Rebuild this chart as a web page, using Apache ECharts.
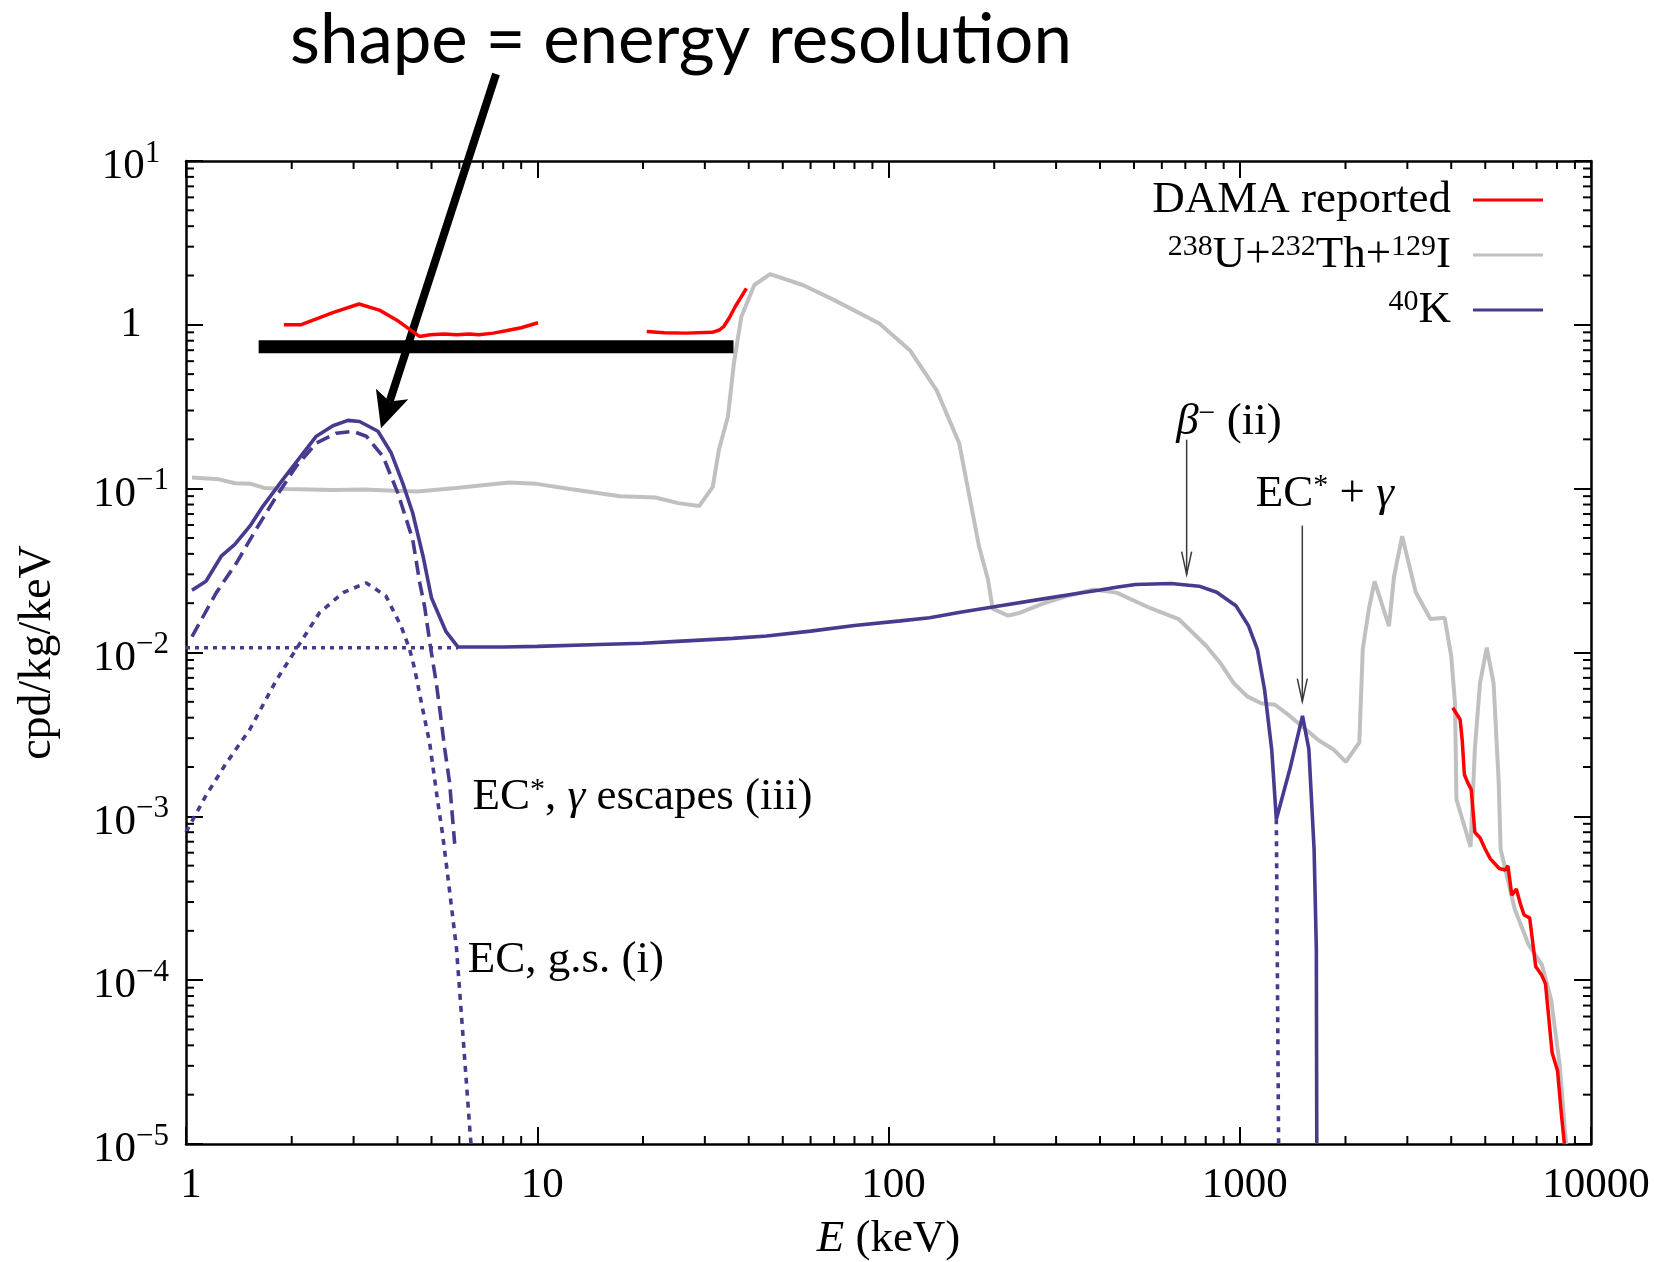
<!DOCTYPE html>
<html>
<head>
<meta charset="utf-8">
<title>40K background in NaI</title>
<script src="https://cdn.jsdelivr.net/npm/echarts@6/dist/echarts.min.js"></script>
<style>
  html, body { margin: 0; padding: 0; background: #fff; }
  #chart { width: 1654px; height: 1262px; }
</style>
</head>
<body>
<div id="chart"></div>
<script>
// energies in keV, rates in cpd/kg/keV
const damaLowA = [[1.90, 1.0], [2.12, 1.0], [2.63, 1.19], [3.11, 1.34], [3.55, 1.23], [4.03, 1.05], [4.62, 0.85],
  [4.95, 0.87], [5.44, 0.88], [5.9, 0.87], [6.4, 0.88], [6.82, 0.87], [7.5, 0.89], [8.14, 0.92], [9.0, 0.96], [10.05, 1.03]];
const damaLowB = [[20.5, 0.91], [23, 0.895], [26.5, 0.89], [31.5, 0.90], [33, 0.93], [34.0, 0.98], [35.2, 1.10],
  [36.6, 1.29], [39.4, 1.67]];
const damaHigh = [[4040, 0.0046], [4150, 0.0042], [4240, 0.0039], [4300, 0.0029], [4360, 0.0018], [4460, 0.0016],
  [4560, 0.00146], [4670, 0.00080], [4830, 0.00074], [5000, 0.00063], [5170, 0.00055], [5480, 0.00048],
  [5700, 0.00047], [5800, 0.00050], [5950, 0.00033], [6130, 0.00036], [6300, 0.00029], [6450, 0.00025],
  [6690, 0.00024], [6960, 0.000121], [7240, 0.000107], [7420, 0.000095], [7750, 3.6e-5], [8030, 2.8e-5],
  [8240, 1.5e-5], [8400, 1e-5]];

const uthI = [[1.04, 0.117], [1.24, 0.114], [1.38, 0.108], [1.53, 0.107], [1.67, 0.101], [1.94, 0.0995], [2.63, 0.098],
  [3.21, 0.099], [3.92, 0.097], [4.56, 0.096], [5.87, 0.101], [8.32, 0.109], [9.95, 0.107], [12.4, 0.0995],
  [17.2, 0.0898], [21.7, 0.0884], [25.2, 0.0816], [28.9, 0.0783], [31.6, 0.1025], [32.9, 0.173], [34.9, 0.276],
  [36.3, 0.584], [38.1, 1.12], [41.5, 1.75], [46.0, 2.04], [57.0, 1.75], [69.9, 1.42], [94.2, 1.02], [115, 0.70],
  [137, 0.40], [159, 0.189], [181, 0.0445], [192, 0.0278], [198, 0.0185], [219, 0.0168], [237, 0.0175],
  [281, 0.0202], [327, 0.0223], [382, 0.0242], [446, 0.0232], [555, 0.0187], [670, 0.0160], [802, 0.0110],
  [878, 0.0087], [961, 0.0065], [1050, 0.0054], [1150, 0.0049], [1260, 0.0048], [1388, 0.0041], [1680, 0.0029],
  [1845, 0.00257], [2005, 0.00215], [2190, 0.00283], [2240, 0.0105], [2330, 0.0183], [2420, 0.0272],
  [2660, 0.0145], [2750, 0.0292], [2900, 0.0513], [3170, 0.0233], [3490, 0.0160], [3830, 0.0163], [4000, 0.0095],
  [4100, 0.0049], [4140, 0.00127], [4540, 0.00065], [4670, 0.00257], [4830, 0.0065], [5050, 0.0107],
  [5280, 0.0065], [5460, 0.00162], [5530, 0.00063], [6070, 0.00027], [6640, 0.000165], [7240, 0.000125],
  [7700, 7.6e-5], [8150, 3.0e-5], [8430, 1.2e-5], [8500, 1e-5]];

// 40K: total, EC* with escaping gamma, EC to ground state, beta continuum below threshold, gap below the EC*+gamma line
const k40Total = [[1.04, 0.024], [1.14, 0.0272], [1.26, 0.0387], [1.375, 0.0455], [1.52, 0.059], [1.655, 0.078],
  [1.886, 0.1135], [2.105, 0.154], [2.35, 0.209], [2.62, 0.242], [2.89, 0.261], [3.12, 0.257], [3.52, 0.224],
  [3.84, 0.165], [4.14, 0.108], [4.42, 0.071], [4.73, 0.0387], [5.00, 0.0215], [5.50, 0.0134], [5.95, 0.0108],
  [8, 0.0108], [10, 0.0109], [15, 0.0112], [20, 0.0114], [25, 0.0117], [36, 0.0122], [45, 0.0126], [60, 0.0135],
  [80, 0.0146], [108, 0.0156], [131, 0.0163], [160, 0.0176], [200, 0.0190], [270, 0.0211], [330, 0.0226],
  [400, 0.0241], [450, 0.0251], [505, 0.0260], [637, 0.0264], [766, 0.0254], [860, 0.0233], [977, 0.0192],
  [1060, 0.0145], [1123, 0.0104], [1177, 0.0059], [1233, 0.00256], [1271, 0.00096], [1388, 0.00193],
  [1509, 0.0041], [1573, 0.00257], [1628, 0.00063], [1652, 0.000156], [1657, 1e-5]];
const k40Escape = [[1.04, 0.0125], [1.22, 0.0232], [1.39, 0.035], [1.58, 0.056], [1.81, 0.090], [2.06, 0.137],
  [2.35, 0.190], [2.68, 0.218], [2.99, 0.224], [3.26, 0.209], [3.64, 0.157], [4.01, 0.094], [4.42, 0.049],
  [4.63, 0.0266], [4.78, 0.019], [4.97, 0.0107], [5.16, 0.0065], [5.30, 0.0042], [5.45, 0.0026], [5.63, 0.0016],
  [5.82, 0.00068]];
const k40Ground = [[1.0, 0.0008], [1.14, 0.00134], [1.30, 0.0021], [1.52, 0.0034], [1.81, 0.0068], [2.06, 0.0105],
  [2.40, 0.0175], [2.80, 0.0232], [3.26, 0.0266], [3.71, 0.0221], [4.10, 0.0144], [4.33, 0.0105], [4.48, 0.0079],
  [4.72, 0.0045], [4.94, 0.0028], [5.20, 0.00126], [5.38, 0.00077], [5.55, 0.00045], [5.89, 0.000156],
  [6.14, 4.7e-5], [6.44, 1.16e-5], [6.48, 1e-5]];
const k40Floor = [[1, 0.0107], [5.95, 0.0107]];
const k40Gap = [[1271, 0.00096], [1290, 1e-5]];

// the thick black bar ("energy resolution")
const resolutionBar = [[1.61, 0.734], [36.2, 0.734]];

const xTicks = [1, 10, 100, 1000, 10000];
const yTicks = [1e-5, 1e-4, 1e-3, 1e-2, 1e-1, 1, 10];

const legendNames = ['DAMA reported', '238U+232Th+129I', '40K'];
const legendLabels = {
  'DAMA reported': 'DAMA reported',
  '238U+232Th+129I': '{sup|238}U+{sup|232}Th+{sup|129}I',
  '40K': '{sup|40}K'
};

const SERIF = '"Liberation Serif", "DejaVu Serif", serif';
const RED = '#ff0000';
const GRAY = '#c0c0c0';
const BLUE = '#463b8e';

const chart = echarts.init(document.getElementById('chart'));

const supStyle = { fontFamily: SERIF, fontSize: 30, lineHeight: 22, verticalAlign: 'top', color: '#000' };
const itStyle = { fontFamily: SERIF, fontSize: 45, lineHeight: 46, fontStyle: 'italic', color: '#000' };

function lineSeries(name, data, color, width, type) {
  return {
    name: name,
    type: 'line',
    data: data,
    showSymbol: false,
    symbol: 'none',
    silent: true,
    lineStyle: { color: color, width: width, type: type || 'solid' },
    itemStyle: { color: color }
  };
}

function renderMinorTicks(params, api) {
  const children = [];
  const style = { stroke: '#000', lineWidth: 2 };
  const len = 8;
  for (let k = 0; k < xTicks.length - 1; k++) {
    for (let m = 2; m < 10; m++) {
      const e = m * xTicks[k];
      const b = api.coord([e, yTicks[0]]);
      const t = api.coord([e, yTicks[yTicks.length - 1]]);
      children.push({ type: 'line', shape: { x1: b[0], y1: b[1], x2: b[0], y2: b[1] - len }, style: style });
      children.push({ type: 'line', shape: { x1: t[0], y1: t[1], x2: t[0], y2: t[1] + len }, style: style });
    }
  }
  for (let k = 0; k < yTicks.length - 1; k++) {
    for (let m = 2; m < 10; m++) {
      const v = m * yTicks[k];
      const l = api.coord([xTicks[0], v]);
      const r = api.coord([xTicks[xTicks.length - 1], v]);
      children.push({ type: 'line', shape: { x1: l[0], y1: l[1], x2: l[0] + len, y2: l[1] }, style: style });
      children.push({ type: 'line', shape: { x1: r[0], y1: r[1], x2: r[0] - len, y2: r[1] }, style: style });
    }
  }
  return { type: 'group', children: children };
}

const frameAxis = {
  type: 'log',
  logBase: 10,
  axisLine: { show: true, lineStyle: { color: '#000', width: 2.5 } },
  axisTick: { show: true, inside: true, length: 17, lineStyle: { color: '#000', width: 2 } },
  splitLine: { show: false },
  minorTick: { show: false }
};

const option = {
  animation: false,
  backgroundColor: '#fff',
  grid: { left: 186, right: 63, top: 161, bottom: 118, containLabel: false, outerBoundsMode: 'none' },
  legend: {
    data: legendNames,
    orient: 'vertical',
    right: 106,
    top: 172,
    align: 'right',
    icon: 'rect',
    itemWidth: 70,
    itemHeight: 3,
    itemGap: 9,
    selectedMode: false,
    formatter: function (name) { return legendLabels[name]; },
    textStyle: {
      fontFamily: SERIF, fontSize: 45, lineHeight: 46, color: '#000', padding: [0, 17, 0, 0],
      rich: { sup: supStyle }
    }
  },
  xAxis: [
    Object.assign({}, frameAxis, {
      min: xTicks[0], max: xTicks[xTicks.length - 1], splitNumber: 4, position: 'bottom',
      name: '{it|E} (keV)', nameLocation: 'middle', nameGap: 72,
      nameTextStyle: { fontFamily: SERIF, fontSize: 45, lineHeight: 46, color: '#000', rich: { it: itStyle } },
      axisLabel: {
        show: true, margin: 20, fontFamily: SERIF, fontSize: 43, color: '#000', padding: [0, 0, 0, 10],
        showMinLabel: true, showMaxLabel: true,
        formatter: function (v) { return String(Math.round(v)); }
      }
    }),
    Object.assign({}, frameAxis, {
      min: xTicks[0], max: xTicks[xTicks.length - 1], splitNumber: 4, position: 'top',
      axisLabel: { show: false }
    })
  ],
  yAxis: [
    Object.assign({}, frameAxis, {
      min: yTicks[0], max: yTicks[yTicks.length - 1], splitNumber: 6, position: 'left',
      name: 'cpd/kg/keV', nameLocation: 'middle', nameGap: 125, nameRotate: 90,
      nameTextStyle: { fontFamily: SERIF, fontSize: 46, color: '#000' },
      axisLabel: {
        show: true, margin: 55, align: 'center', fontFamily: SERIF, fontSize: 43, lineHeight: 46, color: '#000',
        showMinLabel: true, showMaxLabel: true,
        formatter: function (v) {
          const p = Math.round(Math.log10(v));
          if (p === 0) return '1';
          return '{b|10}{s|' + String(p).replace('-', '\u2212') + '}';
        },
        rich: {
          b: { fontFamily: SERIF, fontSize: 43, lineHeight: 46, padding: [12, 0, 0, 0], color: '#000' },
          s: { fontFamily: SERIF, fontSize: 31, lineHeight: 42, verticalAlign: 'top', color: '#000' }
        }
      }
    }),
    Object.assign({}, frameAxis, {
      min: yTicks[0], max: yTicks[yTicks.length - 1], splitNumber: 6, position: 'right',
      axisLabel: { show: false }
    })
  ],
  series: [
    lineSeries('238U+232Th+129I', uthI, GRAY, 4),
    lineSeries('40K', k40Total, BLUE, 3.6),
    lineSeries('40K', k40Escape, BLUE, 3.6, [14, 7]),
    lineSeries('40K', k40Ground, BLUE, 3.6, [6, 6]),
    lineSeries('40K', k40Floor, BLUE, 3.6, [4, 5]),
    lineSeries('40K', k40Gap, BLUE, 3.6, [5, 6]),
    lineSeries('DAMA reported', damaLowA, RED, 3.5),
    lineSeries('DAMA reported', damaLowB, RED, 3.5),
    lineSeries('DAMA reported', damaHigh, RED, 3.5),
    lineSeries('resolution', resolutionBar, '#000', 13),
    {
      type: 'custom',
      silent: true,
      data: [[xTicks[0], yTicks[0]]],
      renderItem: renderMinorTicks,
      clip: false,
      z: 5
    }
  ]
};

chart.setOption(option);

// annotations, anchored in data coordinates
const notes = [
  { text: '{it|β}{sup|\u2212} (ii)', at: [659, 0.256] },
  { text: 'EC{sup|*} + {it|γ}', at: [1111, 0.0920] },
  { text: 'EC{sup|*}, {it|γ} escapes (iii)', at: [6.54, 0.00130] },
  { text: 'EC, g.s. (i)', at: [6.34, 1.33e-4] }
];
const pointers = [
  { from: [706, 0.199], to: [706, 0.0299] },
  { from: [1507, 0.0595], to: [1507, 0.00502] }
];
const bigArrowTip = [3.59, 0.234];

const toPx = function (p) { return chart.convertToPixel({ xAxisIndex: 0, yAxisIndex: 0 }, p); };
const graphic = [];

notes.forEach(function (n) {
  const p = toPx(n.at);
  graphic.push({
    type: 'text', x: p[0], y: p[1], silent: true,
    style: {
      text: n.text, fontFamily: SERIF, fontSize: 45, lineHeight: 46, fill: '#000',
      align: 'left', verticalAlign: 'middle',
      rich: {
        sup: { fontFamily: SERIF, fontSize: 30, lineHeight: 22, verticalAlign: 'top', fill: '#000' },
        it: { fontFamily: SERIF, fontSize: 45, lineHeight: 46, fontStyle: 'italic', fill: '#000' }
      }
    }
  });
});

pointers.forEach(function (a) {
  const f = toPx(a.from);
  const t = toPx(a.to);
  const st = { stroke: '#3a3a3a', lineWidth: 1.5, fill: null };
  graphic.push({ type: 'line', silent: true, shape: { x1: f[0], y1: f[1], x2: t[0], y2: t[1] }, style: st });
  graphic.push({ type: 'polyline', silent: true,
    shape: { points: [[t[0] - 5, t[1] - 23], [t[0], t[1]], [t[0] + 5, t[1] - 23]] }, style: st });
});

// headline and its arrow
graphic.push({
  type: 'text', x: 290, y: 41, silent: true,
  style: { text: 'shape = energy resolution', fontFamily: 'Lato', fontSize: 69, fill: '#000',
    align: 'left', verticalAlign: 'middle' }
});
(function () {
  const s = [496, 74];
  const t = toPx(bigArrowTip);
  const dx = t[0] - s[0], dy = t[1] - s[1];
  const L = Math.sqrt(dx * dx + dy * dy);
  const ux = dx / L, uy = dy / L, nx = -uy, ny = ux;
  const headLen = 36, half = 17, notch = 28;
  const bx = t[0] - headLen * ux, by = t[1] - headLen * uy;
  const kx = t[0] - notch * ux, ky = t[1] - notch * uy;
  graphic.push({ type: 'line', silent: true, shape: { x1: s[0], y1: s[1], x2: kx, y2: ky },
    style: { stroke: '#000', lineWidth: 8 } });
  graphic.push({ type: 'polygon', silent: true,
    shape: { points: [[t[0], t[1]], [bx + half * nx, by + half * ny], [kx, ky], [bx - half * nx, by - half * ny]] },
    style: { fill: '#000' } });
})();

chart.setOption({ graphic: graphic });
</script>
</body>
</html>
